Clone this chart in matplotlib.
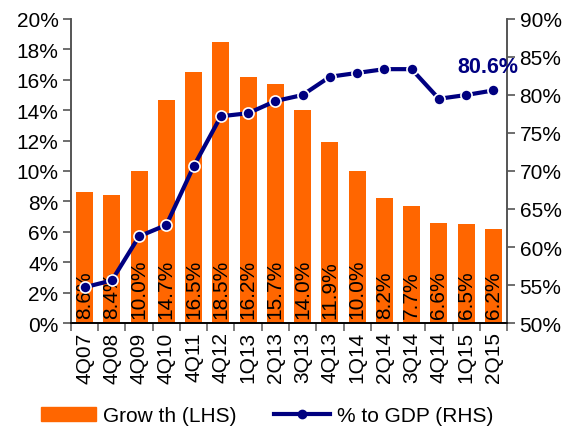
import matplotlib.pyplot as plt
from matplotlib.ticker import FuncFormatter, MultipleLocator
from matplotlib.patches import Patch
from matplotlib.lines import Line2D

plt.rcParams['font.family'] = ['Liberation Sans', 'DejaVu Sans']

# data
quarters = ['4Q07', '4Q08', '4Q09', '4Q10', '4Q11', '4Q12', '1Q13', '2Q13',
            '3Q13', '4Q13', '1Q14', '2Q14', '3Q14', '4Q14', '1Q15', '2Q15']
growth = [8.6, 8.4, 10.0, 14.7, 16.5, 18.5, 16.2, 15.7,
          14.0, 11.9, 10.0, 8.2, 7.7, 6.6, 6.5, 6.2]
to_gdp = [54.7, 55.6, 61.4, 62.9, 70.6, 77.2, 77.6, 79.2,
          80.0, 82.4, 82.9, 83.4, 83.4, 79.5, 80.0, 80.6]

orange = '#FF6600'
navy = '#000080'

fig = plt.figure(figsize=(5.66, 4.27), dpi=100)
ax = fig.add_axes([0.1254, 0.2412, 0.7704, 0.712])
ax2 = ax.twinx()

x = list(range(len(quarters)))
ax.bar(x, growth, width=0.62, color=orange, zorder=1)
for xi, g in zip(x, growth):
    ax.text(xi, 0.3, f'{g:.1f}%', rotation=90, ha='center', va='bottom',
            fontsize=15, color='black', zorder=5)

ax2.plot(x, to_gdp, color=navy, lw=3, marker='o', markersize=8,
         markeredgecolor='white', markeredgewidth=1.2, zorder=3)
ax2.text(14.78, 83.7, '80.6%', color=navy, fontsize=15.5, fontweight='bold',
         ha='center', va='center')

ax.set_zorder(0)
ax2.set_zorder(1)
ax2.patch.set_visible(False)

ax.set_xlim(-0.5, len(quarters) - 0.5)
ax.set_ylim(0, 20)
ax2.set_ylim(50, 90)
ax.yaxis.set_major_locator(MultipleLocator(2))
ax2.yaxis.set_major_locator(MultipleLocator(5))
ax.yaxis.set_major_formatter(FuncFormatter(lambda v, p: f'{v:.0f}%'))
ax2.yaxis.set_major_formatter(FuncFormatter(lambda v, p: f'{v:.0f}%'))

ax.set_xticks(x)
ax.set_xticklabels(quarters, rotation=90, fontsize=15)
ax.set_xticks([i - 0.5 for i in range(len(quarters) + 1)], minor=True)
ax.tick_params(axis='x', which='major', length=0, pad=6)
ax.tick_params(axis='x', which='minor', length=6, color='#666666', width=1.2)
ax.tick_params(axis='y', labelsize=15, length=6, color='#555555', width=1.2, pad=3)
ax2.tick_params(axis='y', labelsize=15, length=6, color='#555555', width=1.2, pad=3)

for a in (ax, ax2):
    a.spines['top'].set_visible(False)
    a.spines['left'].set_color('#555555')
    a.spines['right'].set_color('#555555')
    a.spines['bottom'].set_color('black')
    a.spines['left'].set_linewidth(1.2)
    a.spines['right'].set_linewidth(1.2)
    a.spines['bottom'].set_linewidth(1.2)

handles = [Patch(color=orange),
           Line2D([0], [0], color=navy, lw=3, marker='o', markersize=6)]
fig.legend(handles, ['Grow th (LHS)', '% to GDP (RHS)'], loc='center',
           bbox_to_anchor=(0.472, 0.024), ncol=2, frameon=False, fontsize=15,
           handlelength=2.65, handleheight=0.7, columnspacing=1.8,
           handletextpad=0.35, borderpad=0.1)

fig.savefig('out.png', dpi=100)
